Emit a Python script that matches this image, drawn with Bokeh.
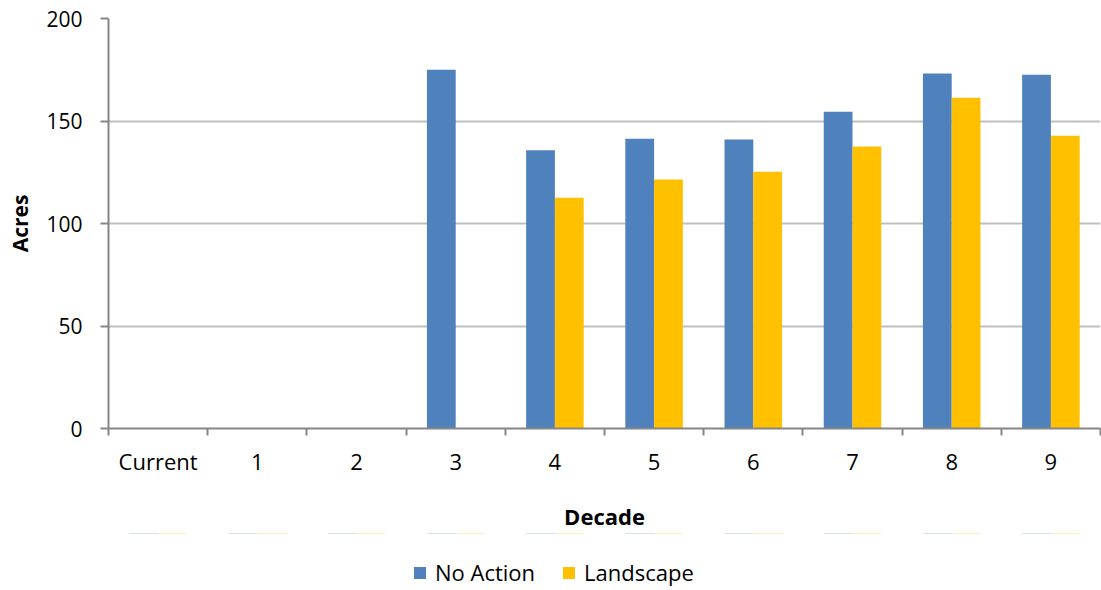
from bokeh.plotting import figure
from bokeh.layouts import column
from bokeh.models import Range1d, FixedTicker, Legend, LegendItem, ColumnDataSource
from bokeh.embed import file_html
from bokeh.resources import INLINE

decades = ["Current", "1", "2", "3", "4", "5", "6", "7", "8", "9"]
no_action = [0, 0, 0, 175, 135.7, 141.4, 141, 154.5, 173.2, 172.6]
landscape = [0, 0, 0, 0, 112.6, 121.5, 125.3, 137.6, 161.4, 142.8]
series_names = ["No Action", "Landscape"]

FONT = "Open Sans"
BLUE = "#4F81BD"
YELLOW = "#FFC000"
GRID = "#BFBFBF"
AXIS = "#868686"

n = len(decades)
centers = [i + 0.5 for i in range(n)]
bw = 0.29

src = ColumnDataSource(dict(
    xb=[c - bw / 2 for c in centers],
    xl=[c + bw / 2 for c in centers],
    na=no_action,
    la=landscape,
))

p = figure(frame_width=992, frame_height=410, output_backend="svg", toolbar_location=None,
           x_range=Range1d(0, n), y_range=Range1d(0, 200),
           min_border_left=108, min_border_right=1, min_border_top=18, min_border_bottom=0)
p.outline_line_color = None
p.background_fill_color = "white"
p.border_fill_color = "white"

rb = p.vbar(x="xb", top="na", width=bw, source=src, fill_color=BLUE, line_color=None)
rl = p.vbar(x="xl", top="la", width=bw, source=src, fill_color=YELLOW, line_color=None)

# x axis
xa = p.xaxis[0]
xa.ticker = FixedTicker(ticks=centers, minor_ticks=list(range(n + 1)))
xa.major_label_overrides = {c: d for c, d in zip(centers, decades)}
xa.major_tick_line_color = None
xa.major_tick_out = 7
xa.major_tick_in = 0
xa.minor_tick_line_color = AXIS
xa.minor_tick_line_width = 2
xa.minor_tick_out = 7
xa.minor_tick_in = 0
xa.axis_line_color = AXIS
xa.axis_line_width = 2
xa.major_label_text_font = FONT
xa.major_label_text_font_size = "22px"
xa.major_label_text_color = "black"
xa.major_label_standoff = 10
xa.axis_label = "Decade"
xa.axis_label_text_font = FONT
xa.axis_label_text_font_style = "bold"
xa.axis_label_text_font_size = "22px"
xa.axis_label_text_color = "black"
xa.axis_label_standoff = 22

# y axis
ya = p.yaxis[0]
ya.ticker = FixedTicker(ticks=[0, 50, 100, 150, 200], minor_ticks=[])
ya.major_tick_line_color = AXIS
ya.major_tick_line_width = 2
ya.major_tick_out = 8
ya.major_tick_in = 0
ya.axis_line_color = AXIS
ya.axis_line_width = 2
ya.major_label_text_font = FONT
ya.major_label_text_font_size = "21px"
ya.major_label_text_color = "black"
ya.major_label_standoff = 18
ya.axis_label = "Acres"
ya.axis_label_text_font = FONT
ya.axis_label_text_font_style = "bold"
ya.axis_label_text_font_size = "21px"
ya.axis_label_text_color = "black"
ya.axis_label_standoff = 9

p.xgrid.grid_line_color = None
p.ygrid.grid_line_color = GRID
p.ygrid.grid_line_width = 2

# legend strip below the chart (its bars lie outside its visible range)
lf = figure(frame_width=992, frame_height=56, output_backend="svg", toolbar_location=None,
            x_range=Range1d(0, n), y_range=Range1d(-2, -1),
            x_axis_type=None, y_axis_type=None,
            min_border_left=108, min_border_right=1, min_border_top=0, min_border_bottom=0)
lf.outline_line_color = None
lf.xgrid.grid_line_color = None
lf.ygrid.grid_line_color = None
lb = lf.vbar(x="xb", top="na", width=bw, source=src, fill_color=BLUE, line_color=None)
ll = lf.vbar(x="xl", top="la", width=bw, source=src, fill_color=YELLOW, line_color=None)

legend = Legend(items=[LegendItem(label=series_names[0], renderers=[lb]),
                       LegendItem(label=series_names[1], renderers=[ll])],
                orientation="horizontal", location=(304, 2))
legend.label_text_font = FONT
legend.label_text_font_size = "22px"
legend.label_text_color = "black"
legend.glyph_width = 15
legend.glyph_height = 15
legend.spacing = 26
legend.label_standoff = 8
legend.padding = 0
legend.margin = 0
legend.border_line_color = None
legend.background_fill_alpha = 0
lf.add_layout(legend, "center")

layout = column(p, lf, spacing=0)

open("out.html", "w").write(file_html(layout, INLINE))
